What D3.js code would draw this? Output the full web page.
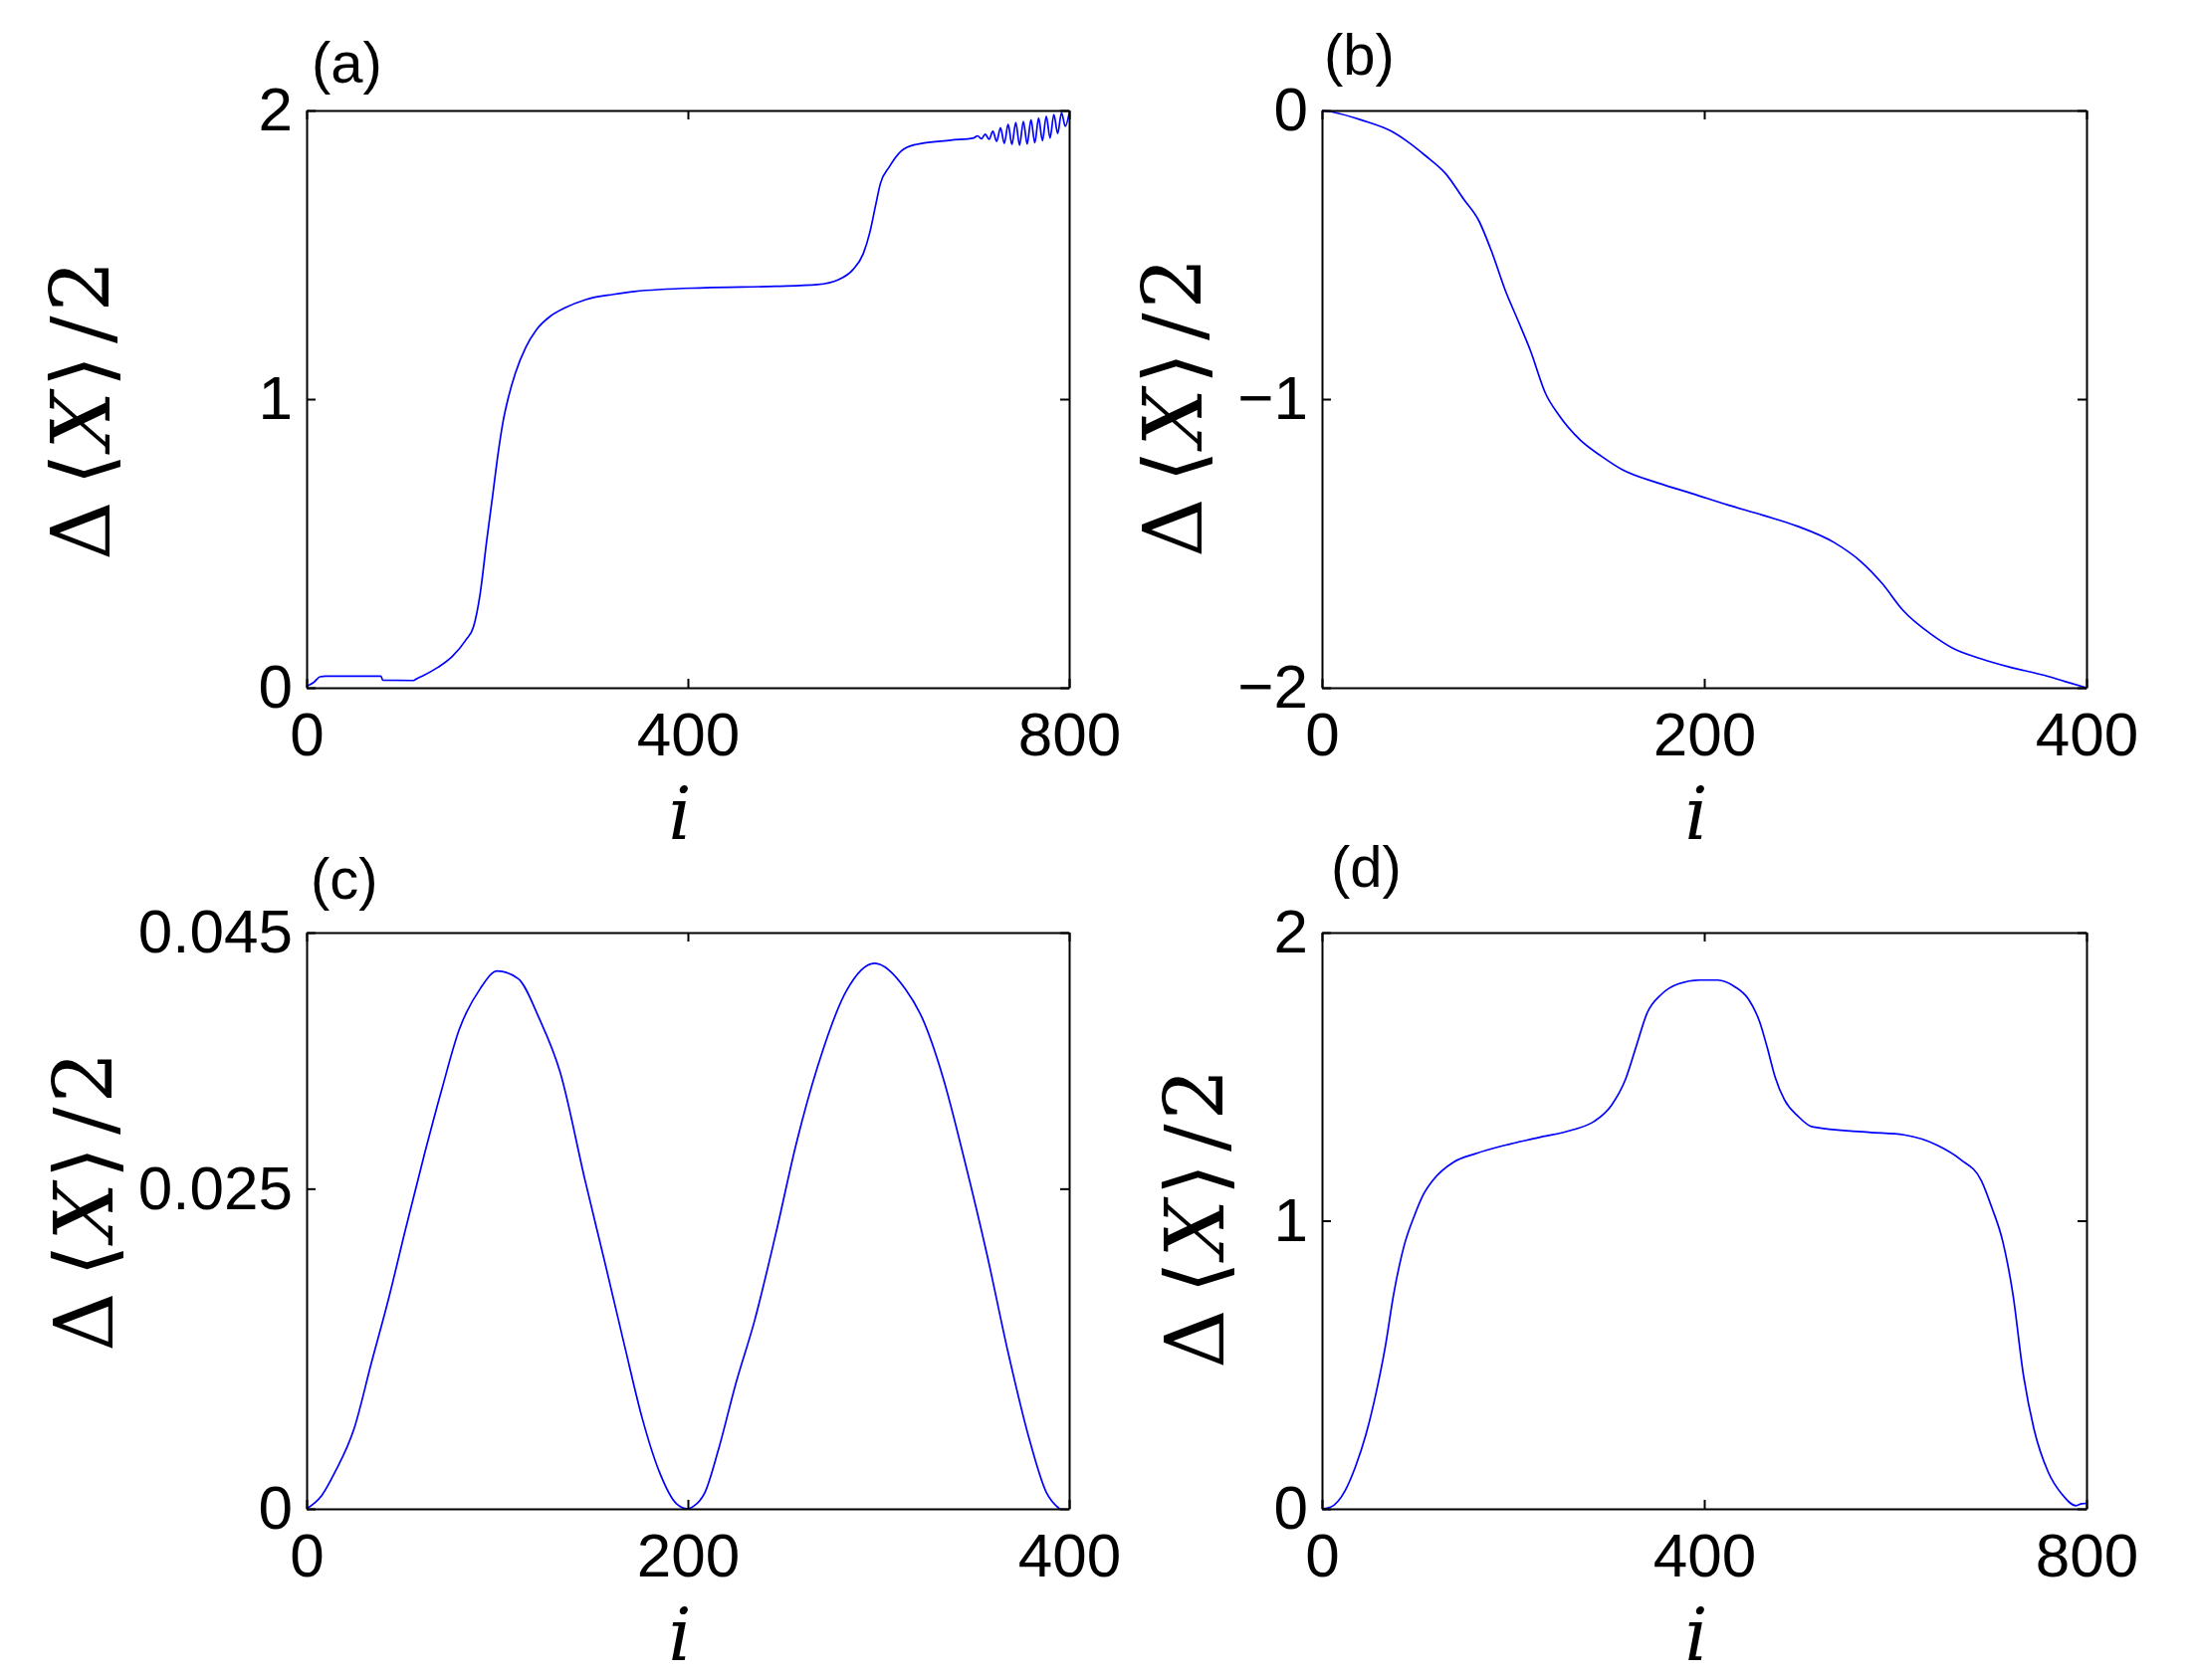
<html>
<style>
body { margin: 0; background: #fff; }
.axis path, .axis line { stroke: #000; stroke-width: 2px; }
.axis text { font-family: "Liberation Sans", Arial, sans-serif; font-size: 62px; fill: #000; }
.curve { fill: none; stroke: #0000ff; stroke-width: 1.7px; }
.plabel { font-family: "Liberation Sans", Arial, sans-serif; font-size: 58px; }
.ylab, .xlab { font-family: "DejaVu Serif", "Liberation Serif", serif; }
</style>
<svg width="2207" height="1688"></svg>
<script src="https://d3js.org/d3.v7.min.js"></script>
<script>

// ---- data ----
var aI = [0, 8, 14, 20, 78, 80, 112, 116, 123, 138, 153, 167, 175, 182, 189, 195, 200, 206, 212, 219, 230, 241, 256, 271, 293, 322, 344, 418, 492, 536, 558, 573, 584, 591, 597, 602, 611, 624, 639, 676,
          700, 704, 708, 712, 716, 720, 724, 728, 732, 736, 740, 744, 748, 752, 756, 760, 764, 768, 772, 776, 780, 784, 788, 792, 796, 800];
var aV = [0.005, 0.02, 0.038, 0.04, 0.04, 0.026, 0.025, 0.032, 0.043, 0.071, 0.109, 0.165, 0.21, 0.324, 0.511, 0.661, 0.79, 0.92, 1.01, 1.09, 1.18, 1.24, 1.288, 1.316, 1.345, 1.363, 1.373, 1.386, 1.391, 1.397, 1.414, 1.448, 1.504, 1.579, 1.672, 1.747, 1.803, 1.86, 1.882, 1.897,
          1.905, 1.912, 1.902, 1.918, 1.9, 1.928, 1.893, 1.94, 1.886, 1.952, 1.882, 1.958, 1.88, 1.962, 1.884, 1.968, 1.888, 1.974, 1.895, 1.98, 1.905, 1.986, 1.92, 1.992, 1.945, 1.99];

var bI = [0, 6, 21, 36, 45, 54, 65, 74, 82, 89, 96, 102, 109, 117, 124, 135, 146, 157, 176, 194, 212, 231, 249, 268, 282, 293, 304, 319, 330, 345, 360, 378, 389, 400];
var bV = [0, -0.006, -0.034, -0.071, -0.109, -0.156, -0.221, -0.306, -0.381, -0.493, -0.625, -0.719, -0.831, -0.981, -1.056, -1.141, -1.197, -1.244, -1.291, -1.328, -1.366, -1.403, -1.441, -1.497, -1.563, -1.638, -1.732, -1.816, -1.863, -1.9, -1.929, -1.957, -1.979, -2.0];

var cI = [0, 8, 15, 25, 34, 43, 52, 62, 71, 80, 91, 100, 111, 122, 133, 146, 157, 167, 176, 185, 194, 200, 203, 209, 216, 225, 235, 246, 257, 268, 283, 298, 314, 323, 334, 345, 357, 368, 379, 388, 395];
var cV = [0, 0.00105, 0.0029, 0.0063, 0.0114, 0.0164, 0.0219, 0.0278, 0.0328, 0.0374, 0.0406, 0.042, 0.0414, 0.0383, 0.0341, 0.0257, 0.0189, 0.0126, 0.0071, 0.0029, 0.0004, 0, 0.0002, 0.0013, 0.0046, 0.0097, 0.0147, 0.0214, 0.0286, 0.0345, 0.0404, 0.0426, 0.0406, 0.0383, 0.0336, 0.0273, 0.0198, 0.0122, 0.0055, 0.0013, 0];

var dI = [0, 9, 24, 35, 46, 57, 66, 75, 86, 97, 106, 116, 138, 160, 189, 226, 263, 285, 303, 318, 329, 340, 355, 373, 395, 414, 432, 446, 458, 466, 474, 484, 498, 513, 572, 609, 645, 668, 690, 701, 712, 723, 734, 745, 760, 774, 789, 795, 800];
var dV = [0, 0.006, 0.062, 0.146, 0.258, 0.408, 0.558, 0.745, 0.914, 1.02, 1.09, 1.14, 1.204, 1.232, 1.26, 1.288, 1.316, 1.345, 1.401, 1.494, 1.607, 1.719, 1.785, 1.822, 1.835, 1.835, 1.812, 1.77, 1.69, 1.6, 1.5, 1.419, 1.363, 1.326, 1.307, 1.298, 1.26, 1.213, 1.139, 1.045, 0.933, 0.745, 0.464, 0.277, 0.127, 0.052, 0.011, 0.018, 0.019];

var xTicksA = [0, 400, 800], xTicksB = [0, 200, 400], xTicksC = [0, 200, 400], xTicksD = [0, 400, 800];
var yTicksA = [0, 1, 2], yTicksB = [-2, -1, 0], yTicksC = [0, 0.025, 0.045], yTicksD = [0, 1, 2];
var yLabelsC = ["0", "0.025", "0.045"];
var panelNames = ["(a)", "(b)", "(c)", "(d)"];

// ---- layout ----
var svg = d3.select("svg");

var panels = [
  {name: panelNames[0], x0: 308, y0: 111, x1: 1074, y1: 691, xd: [0, 800], yd: [0, 2], xt: xTicksA, yt: yTicksA, I: aI, V: aV,
   lab: [313, 83], ylab: [110, 412]},
  {name: panelNames[1], x0: 1328, y0: 111, x1: 2096, y1: 691, xd: [0, 400], yd: [-2, 0], xt: xTicksB, yt: yTicksB, I: bI, V: bV,
   lab: [1330, 75], ylab: [1207, 409]},
  {name: panelNames[2], x0: 308, y0: 937, x1: 1074, y1: 1516, xd: [0, 400], yd: [0, 0.045], xt: xTicksC, yt: yTicksC, I: cI, V: cV,
   lab: [312, 903], ylab: [113, 1207], ylabels: yLabelsC},
  {name: panelNames[3], x0: 1328, y0: 937, x1: 2096, y1: 1516, xd: [0, 800], yd: [0, 2], xt: xTicksD, yt: yTicksD, I: dI, V: dV,
   lab: [1337, 891], ylab: [1229, 1224]}
];

var fmt = function(d) { return d < 0 ? "\u2212" + Math.abs(d) : String(d); };

panels.forEach(function(p) {
  var x = d3.scaleLinear().domain(p.xd).range([p.x0, p.x1]);
  var y = d3.scaleLinear().domain(p.yd).range([p.y1, p.y0]);

  var line = d3.line()
      .curve(d3.curveMonotoneX)
      .x(function(d, k) { return x(p.I[k]); })
      .y(function(d, k) { return y(p.V[k]); });

  svg.append("path")
      .attr("class", "curve")
      .attr("d", line(p.I));

  var yfmt = p.ylabels ? function(d, k) { return p.ylabels[k]; } : fmt;

  svg.append("g").attr("class", "axis")
      .attr("transform", "translate(0," + p.y1 + ")")
      .call(d3.axisBottom(x).tickValues(p.xt).tickFormat(fmt).tickSizeInner(-9).tickSizeOuter(0).tickPadding(24));
  svg.append("g").attr("class", "axis")
      .attr("transform", "translate(0," + p.y0 + ")")
      .call(d3.axisTop(x).tickValues(p.xt).tickFormat("").tickSizeInner(-9).tickSizeOuter(0));
  svg.append("g").attr("class", "axis")
      .attr("transform", "translate(" + p.x0 + ",0)")
      .call(d3.axisLeft(y).tickValues(p.yt).tickFormat(yfmt).tickSizeInner(-9).tickSizeOuter(0).tickPadding(14));
  svg.append("g").attr("class", "axis")
      .attr("transform", "translate(" + p.x1 + ",0)")
      .call(d3.axisRight(y).tickValues(p.yt).tickFormat("").tickSizeInner(-9).tickSizeOuter(0));

  svg.selectAll(".axis text").attr("font-family", null).attr("font-size", null);

  // panel tag
  svg.append("text").attr("class", "plabel")
      .attr("x", p.lab[0]).attr("y", p.lab[1])
      .text(p.name);

  // x label
  svg.append("text").attr("class", "xlab")
      .attr("x", (p.x0 + p.x1) / 2 - 8).attr("y", p.y1 + 152)
      .attr("text-anchor", "middle")
      .style("font-size", "72px").style("font-style", "italic")
      .text("i");

  // y label
  var yl = svg.append("text").attr("class", "ylab")
      .attr("transform", "translate(" + p.ylab[0] + "," + p.ylab[1] + ") rotate(-90)")
      .attr("text-anchor", "middle")
      .style("font-size", "82px");
  yl.append("tspan").text("\u0394");
  yl.append("tspan").attr("dx", 16).text("\u27E8");
  yl.append("tspan").attr("dx", 4).style("font-style", "italic").text("X");
  yl.append("tspan").attr("dx", 4).text("\u27E9");
  yl.append("tspan").attr("dx", 12).text("/");
  yl.append("tspan").attr("dx", 4).text("2");
});

</script>
</html>
